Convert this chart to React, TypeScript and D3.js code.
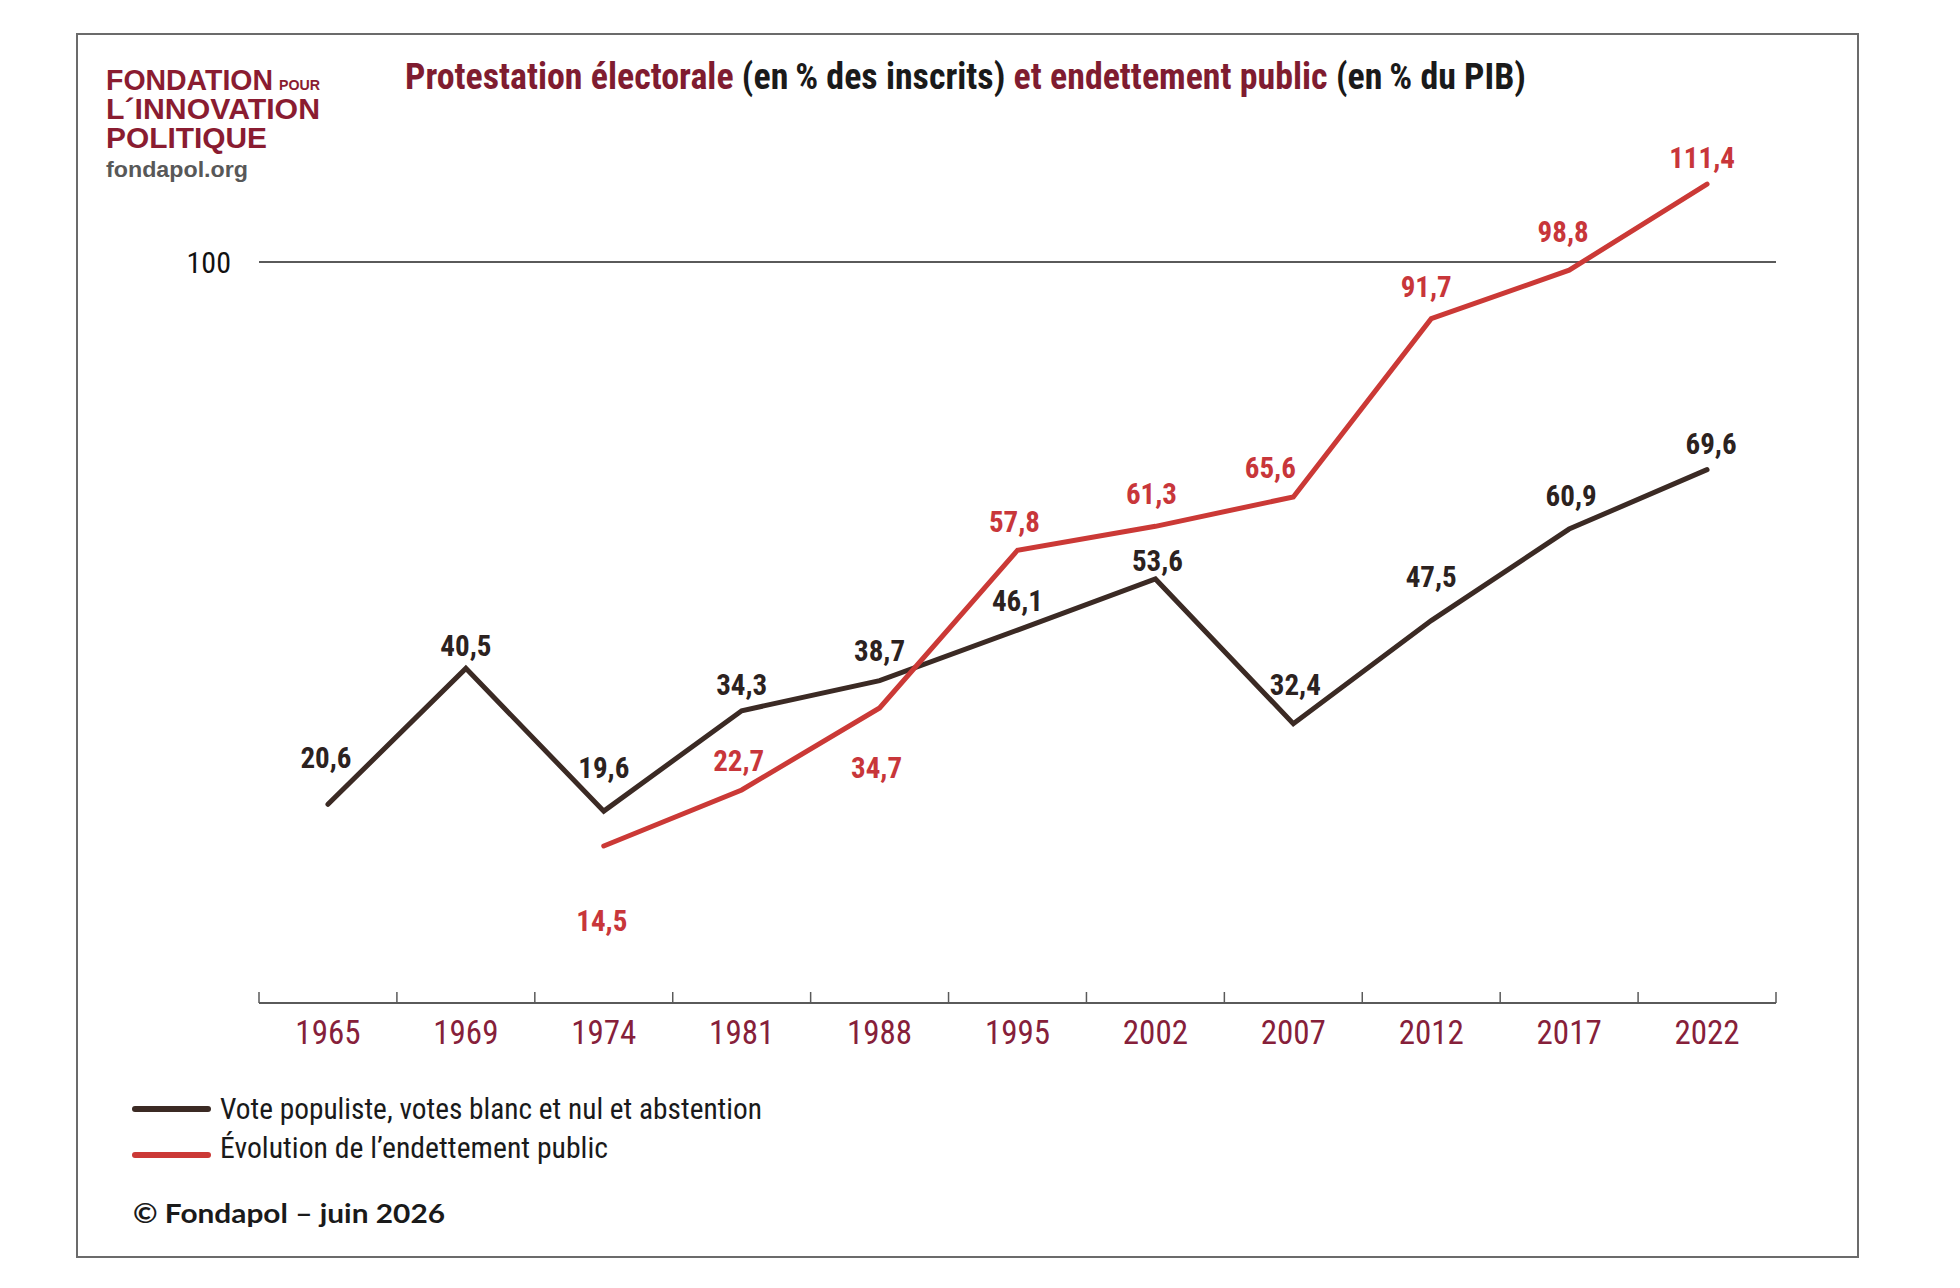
import React, { useEffect, useRef } from 'react'
import * as d3 from 'd3'

const years = ['1965', '1969', '1974', '1981', '1988', '1995', '2002', '2007', '2012', '2017', '2022']
const protest = [20.6, 40.5, 19.6, 34.3, 38.7, 46.1, 53.6, 32.4, 47.5, 60.9, 69.6]
const debtYears = ['1974', '1981', '1988', '1995', '2002', '2007', '2012', '2017', '2022']
const debt = [14.5, 22.7, 34.7, 57.8, 61.3, 65.6, 91.7, 98.8, 111.4]
const yTicks = [100]
const legendLabels = ['Vote populiste, votes blanc et nul et abstention', 'Évolution de l’endettement public']

// label nudges (px) relative to each point
const protestDx = [-2, 0, 0, 0, 0, 0, 2, 2, 0, 2, 4]
const protestDy = [-36, -12, -33, -16, -20, -19, -8, -29, -34, -23, -16]
const debtDx = [-2, -3, -3, -3, -4, -23, -5, -6, -5]
const debtDy = [85, -19, 70, -18, -22, -19, -22, -28, -16]

const narrow = '"Liberation Sans Narrow", "Arial Narrow", "Roboto Condensed", "DejaVu Sans Condensed", sans-serif'
const sans = '"Liberation Sans", Arial, sans-serif'
const BROWN = '#3b2a24'
const RED = '#cb3936'
const WINE = '#7f1c30'

const fmt = (v: number) => String(v).replace('.', ',')

export default function App() {
  const ref = useRef<HTMLDivElement | null>(null)

  useEffect(() => {
    const container = d3.select(ref.current!)
    container.selectAll('*').remove()
    const width = 1960
    const height = 1288
    const svg = container.append('svg').attr('width', width).attr('height', height).attr('viewBox', `0 0 ${width} ${height}`)
      .style('display', 'block')

    svg.append('rect').attr('width', width).attr('height', height).attr('fill', '#fff')
    svg.append('rect').attr('x', 77).attr('y', 34).attr('width', 1781).attr('height', 1223)
      .attr('fill', 'none').attr('stroke', '#6b6b6b').attr('stroke-width', 2)

    // logo
    const logo = svg.append('g').attr('fill', '#8a1c31').attr('font-family', sans).attr('font-weight', 700)
    logo.append('text').attr('x', 106).attr('y', 90).attr('font-size', 29).attr('textLength', 167).attr('lengthAdjust', 'spacingAndGlyphs').text('FONDATION')
    logo.append('text').attr('x', 279).attr('y', 90).attr('font-size', 14).attr('textLength', 41).attr('lengthAdjust', 'spacingAndGlyphs').text('POUR')
    logo.append('text').attr('x', 106).attr('y', 119).attr('font-size', 29).attr('textLength', 214).attr('lengthAdjust', 'spacingAndGlyphs').text('L´INNOVATION')
    logo.append('text').attr('x', 106).attr('y', 148).attr('font-size', 29).attr('textLength', 161).attr('lengthAdjust', 'spacingAndGlyphs').text('POLITIQUE')
    svg.append('text').attr('x', 106).attr('y', 177).attr('font-family', sans).attr('font-size', 22).attr('font-weight', 700)
      .attr('fill', '#585858').attr('textLength', 142).attr('lengthAdjust', 'spacingAndGlyphs').text('fondapol.org')

    // title
    const title = svg.append('text').attr('x', 405).attr('y', 89).attr('font-family', narrow).attr('font-size', 36)
      .attr('font-weight', 700).attr('textLength', 1121).attr('lengthAdjust', 'spacingAndGlyphs')
    title.append('tspan').attr('fill', WINE).text('Protestation électorale ')
    title.append('tspan').attr('fill', '#1a1a1a').text('(en\u2009% des inscrits) ')
    title.append('tspan').attr('fill', WINE).text('et endettement public ')
    title.append('tspan').attr('fill', '#1a1a1a').text('(en\u2009% du PIB)')

    const x = d3.scaleBand<string>().domain(years).range([259, 1776])
    const y = d3.scaleLinear().domain([0, 100]).range([945, 262])
    const cx = (d: string) => (x(d) ?? 0) + x.bandwidth() / 2
    const axisY = 1003

    // y reference line
    const g = svg.append('g')
    yTicks.forEach(t => {
      g.append('line').attr('x1', 259).attr('x2', 1776).attr('y1', y(t)).attr('y2', y(t))
        .attr('stroke', '#5a5a5a').attr('stroke-width', 2)
      g.append('text').attr('x', 231).attr('y', y(t) + 11).attr('text-anchor', 'end')
        .attr('font-family', narrow).attr('font-size', 30).attr('fill', '#111').text(String(t))
    })

    // x axis
    const edges = years.map(d => x(d) ?? 0).concat([x.range()[1]])
    g.append('line').attr('x1', 259).attr('x2', 1776).attr('y1', axisY).attr('y2', axisY)
      .attr('stroke', '#5a5a5a').attr('stroke-width', 2)
    g.selectAll('.tick').data(edges).enter().append('line')
      .attr('x1', d => d).attr('x2', d => d).attr('y1', axisY).attr('y2', axisY - 11)
      .attr('stroke', '#5a5a5a').attr('stroke-width', 1.5)
    g.selectAll('.year').data(years).enter().append('text')
      .attr('x', d => cx(d)).attr('y', 1044).attr('text-anchor', 'middle')
      .attr('font-family', narrow).attr('font-size', 33).attr('fill', '#86203a').text(d => d)

    // lines
    const line = d3.line<[string, number]>().x(d => cx(d[0])).y(d => y(d[1]))
    const protestPts = years.map((d, i) => [d, protest[i]] as [string, number])
    const debtPts = debtYears.map((d, i) => [d, debt[i]] as [string, number])
    g.append('path').attr('d', line(protestPts)).attr('fill', 'none').attr('stroke', BROWN)
      .attr('stroke-width', 5).attr('stroke-linejoin', 'miter').attr('stroke-linecap', 'round')
    g.append('path').attr('d', line(debtPts)).attr('fill', 'none').attr('stroke', RED)
      .attr('stroke-width', 5).attr('stroke-linejoin', 'miter').attr('stroke-linecap', 'round')

    // value labels
    g.selectAll('.plab').data(protestPts).enter().append('text')
      .attr('x', (d, i) => cx(d[0]) + protestDx[i]).attr('y', (d, i) => y(d[1]) + protestDy[i])
      .attr('text-anchor', 'middle').attr('font-family', narrow).attr('font-size', 29).attr('font-weight', 700)
      .attr('fill', '#2c2220').text(d => fmt(d[1]))
    g.selectAll('.dlab').data(debtPts).enter().append('text')
      .attr('x', (d, i) => cx(d[0]) + debtDx[i]).attr('y', (d, i) => y(d[1]) + debtDy[i])
      .attr('text-anchor', 'middle').attr('font-family', narrow).attr('font-size', 29).attr('font-weight', 700)
      .attr('fill', '#c8363a').text(d => fmt(d[1]))

    // legend
    const legendColors = [BROWN, RED]
    const legendLineY = [1109, 1155]
    const legendTextY = [1119, 1158]
    const legendLen = [542, 388]
    legendLabels.forEach((lab, i) => {
      svg.append('line').attr('x1', 135).attr('x2', 208).attr('y1', legendLineY[i]).attr('y2', legendLineY[i])
        .attr('stroke', legendColors[i]).attr('stroke-width', 6).attr('stroke-linecap', 'round')
      svg.append('text').attr('x', 220).attr('y', legendTextY[i]).attr('font-family', narrow).attr('font-size', 30)
        .attr('fill', '#1a1a1a').attr('textLength', legendLen[i]).attr('lengthAdjust', 'spacingAndGlyphs').text(lab)
    })

    svg.append('text').attr('x', 133).attr('y', 1223).attr('font-family', 'Lato, "Open Sans", sans-serif')
      .attr('font-size', 27).attr('font-weight', 700).attr('fill', '#1a1a1a')
      .attr('textLength', 312).attr('lengthAdjust', 'spacingAndGlyphs').text('© Fondapol – juin 2026')
  }, [])

  return <div ref={ref} style={{ position: 'absolute', left: 0, top: 0 }} />
}
